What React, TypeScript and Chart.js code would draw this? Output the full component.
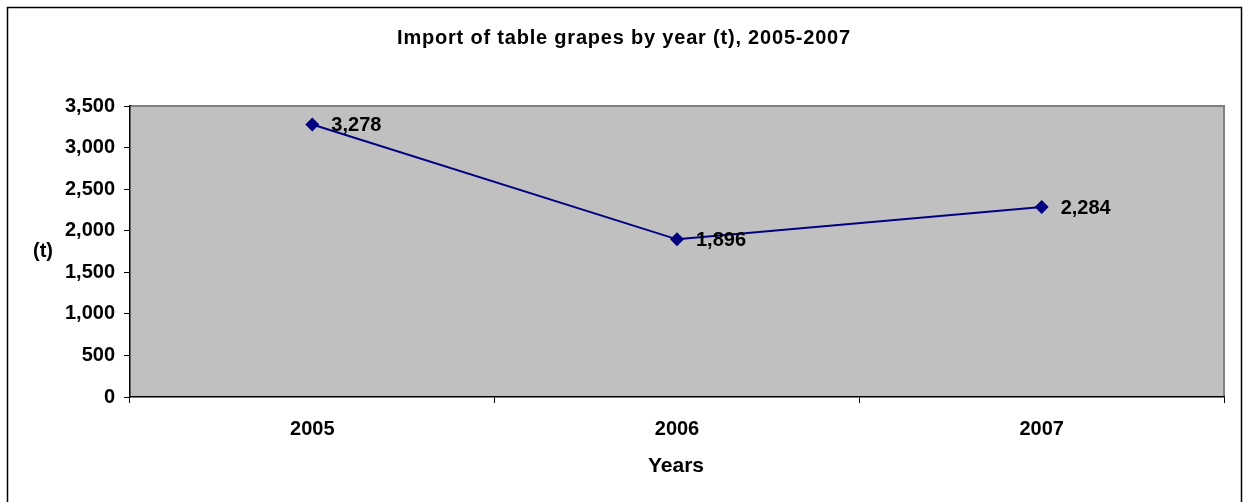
import React, { useEffect, useRef } from "react";
import { Chart, registerables } from "chart.js";

Chart.register(...registerables);

const years = ["2005", "2006", "2007"];
const importTonnes = [3278, 1896, 2284];
const chartTitle = "Import of table grapes by year (t), 2005-2007";
const xAxisTitle = "Years";
const yAxisTitle = "(t)";

const FONT = "Arial, 'Liberation Sans', sans-serif";

const decorPlugin = {
  id: "decor",
  beforeDraw(chart: any) {
    const { ctx, chartArea: a } = chart;
    ctx.save();
    ctx.fillStyle = "#ffffff";
    ctx.fillRect(0, 0, chart.width, chart.height);
    // outer frame
    ctx.strokeStyle = "#000000";
    ctx.lineWidth = 1.5;
    ctx.strokeRect(7.5, 7.5, 1234, 520);
    // plot area
    ctx.fillStyle = "#C0C0C0";
    ctx.fillRect(a.left, a.top, a.right - a.left, a.bottom - a.top);
    ctx.strokeStyle = "#808080";
    ctx.lineWidth = 2;
    ctx.beginPath();
    ctx.moveTo(a.left, a.top);
    ctx.lineTo(a.right, a.top);
    ctx.lineTo(a.right, a.bottom);
    ctx.stroke();
    // titles
    ctx.fillStyle = "#000000";
    ctx.textAlign = "center";
    ctx.textBaseline = "middle";
    ctx.font = `bold 20px ${FONT}`;
    ctx.letterSpacing = "0.8px";
    ctx.fillText(chartTitle, 624, 38);
    ctx.letterSpacing = "0px";
    ctx.font = `bold 21px ${FONT}`;
    ctx.fillText(xAxisTitle, 676, 466);
    ctx.font = `bold 20px ${FONT}`;
    ctx.fillText(yAxisTitle, 43, 251);
    ctx.restore();
  },
  afterDatasetsDraw(chart: any) {
    const { ctx } = chart;
    const meta = chart.getDatasetMeta(0);
    ctx.save();
    ctx.fillStyle = "#000000";
    ctx.font = `bold 20px ${FONT}`;
    ctx.textAlign = "left";
    ctx.textBaseline = "middle";
    meta.data.forEach((pt: any, i: number) => {
      const v = importTonnes[i];
      ctx.fillText(v.toLocaleString("en-US"), pt.x + 19, pt.y + 1);
    });
    ctx.restore();
  },
};

export default function App() {
  const ref = useRef<HTMLCanvasElement | null>(null);
  useEffect(() => {
    document.body.style.margin = "0";
    const c = new Chart(ref.current!, {
      type: "line",
      data: {
        labels: years,
        datasets: [
          {
            data: importTonnes,
            borderColor: "#000080",
            backgroundColor: "#000080",
            borderWidth: 2,
            pointStyle: "rectRot",
            pointRadius: 7,
            pointBorderWidth: 0,
            tension: 0,
          },
        ],
      },
      plugins: [decorPlugin],
      options: {
        animation: false,
        responsive: false,
        devicePixelRatio: 1,
        layout: { padding: { top: 106, right: 22, left: 0, bottom: 0 } },
        plugins: { legend: { display: false }, tooltip: { enabled: false }, title: { display: false } },
        scales: {
          x: {
            offset: true,
            afterFit: (s: any) => {
              s.height = 105;
            },
            grid: {
              offset: true,
              drawOnChartArea: false,
              tickLength: 6,
              color: "#000000",
            },
            border: { color: "#000000", width: 1.5 },
            ticks: {
              color: "#000000",
              font: { family: FONT, size: 20, weight: "bold" },
              padding: 14,
            },
          },
          y: {
            min: 0,
            max: 3500,
            afterFit: (s: any) => {
              s.width = 130;
            },
            grid: { drawOnChartArea: false, tickLength: 6, color: "#000000" },
            border: { color: "#000000", width: 1.5 },
            ticks: {
              stepSize: 500,
              color: "#000000",
              font: { family: FONT, size: 20, weight: "bold" },
              padding: 9,
              callback: (v: any) => Number(v).toLocaleString("en-US"),
            },
          },
        },
      },
    });
    return () => c.destroy();
  }, []);
  return (
    <div style={{ position: "absolute", left: 0, top: 0, width: 1246, height: 502 }}>
      <canvas ref={ref} width={1246} height={502} style={{ width: 1246, height: 502 }} />
    </div>
  );
}
